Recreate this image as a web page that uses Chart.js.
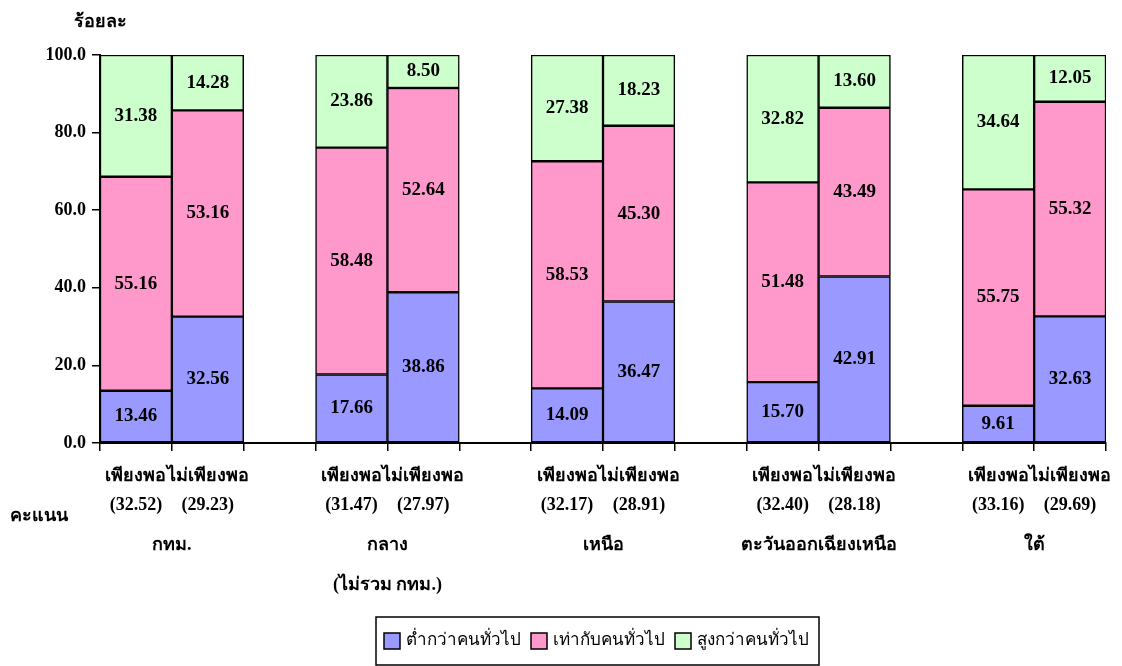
<!DOCTYPE html>
<html>
<head>
<meta charset="utf-8">
<script src="https://cdn.jsdelivr.net/npm/chart.js@4.4.1/dist/chart.umd.min.js"></script>
<style>
html,body{margin:0;background:#fff}
#wrap{width:1122px;height:666px;position:relative}
</style>
</head>
<body>
<div id="wrap"><canvas id="c"></canvas></div>
<script>
// data
var barNames = ["เพียงพอ","ไม่เพียงพอ","เพียงพอ","ไม่เพียงพอ","เพียงพอ","ไม่เพียงพอ","เพียงพอ","ไม่เพียงพอ","เพียงพอ","ไม่เพียงพอ"];
var scores = ["(32.52)","(29.23)","(31.47)","(27.97)","(32.17)","(28.91)","(32.40)","(28.18)","(33.16)","(29.69)"];
var regions = ["กทม.","กลาง","เหนือ","ตะวันออกเฉียงเหนือ","ใต้"];
var regionNotes = ["","(ไม่รวม กทม.)","","",""];
var seriesNames = ["ต่ำกว่าคนทั่วไป","เท่ากับคนทั่วไป","สูงกว่าคนทั่วไป"];
var lowValues = [13.46,32.56,17.66,38.86,14.09,36.47,15.70,42.91,9.61,32.63];
var sameValues = [55.16,53.16,58.48,52.64,58.53,45.30,51.48,43.49,55.75,55.32];
var highValues = [31.38,14.28,23.86,8.50,27.38,18.23,32.82,13.60,34.64,12.05];
var yTicks = [0,20,40,60,80,100];
var colors = ["#9999FF","#FF99CC","#CCFFCC"];

var FONT = "'Liberation Serif','Times New Roman',serif";

// bars sit in pairs, with one empty slot between regions
function slots(arr, empty){
  var out = [];
  for (var g = 0; g < regions.length; g++){
    out.push(arr[2*g], arr[2*g+1]);
    if (g < regions.length - 1) out.push(empty);
  }
  return out;
}
var xLabels = slots(barNames.map(function(n, i){ return [n, scores[i]]; }), "");

function ds(i, vals){
  return {
    label: seriesNames[i],
    data: slots(vals, null),
    backgroundColor: colors[i],
    borderColor: "#000",
    borderWidth: 1.5,
    borderSkipped: false,
    barPercentage: 1,
    categoryPercentage: 1
  };
}

var valueLabels = {
  id: "valueLabels",
  afterDatasetsDraw: function(chart){
    var ctx = chart.ctx;
    ctx.save();
    ctx.font = "bold 19px " + FONT;
    ctx.fillStyle = "#000";
    ctx.textAlign = "center";
    ctx.textBaseline = "middle";
    chart.data.datasets.forEach(function(d, i){
      chart.getDatasetMeta(i).data.forEach(function(bar, j){
        var v = d.data[j];
        if (v == null) return;
        ctx.fillText(v.toFixed(2), bar.x, (bar.y + bar.base) / 2);
      });
    });
    ctx.restore();
  }
};

var extras = {
  id: "extras",
  afterDraw: function(chart){
    var ctx = chart.ctx, x = chart.scales.x;
    ctx.save();
    ctx.fillStyle = "#000";
    ctx.textAlign = "center";
    ctx.textBaseline = "middle";
    ctx.font = "bold 18px " + FONT;
    regions.forEach(function(r, g){
      var cx = (x.getPixelForValue(3*g) + x.getPixelForValue(3*g+1)) / 2;
      ctx.fillText(r, cx, 545);
      if (regionNotes[g]) ctx.fillText(regionNotes[g], cx, 585);
    });
    ctx.fillText("ร้อยละ", 100, 22);
    ctx.textAlign = "left";
    ctx.fillText("คะแนน", 10, 516);

    // legend, laid out from measured text widths and centred under the plot
    ctx.font = "17px " + FONT;
    var widths = chart.data.datasets.map(function(d){ return ctx.measureText(d.label).width; });
    var total = 8;
    widths.forEach(function(w){ total += 16 + 6 + w + 10; });
    var left = Math.round(597 - total / 2);
    ctx.strokeStyle = "#000";
    ctx.lineWidth = 1.5;
    ctx.strokeRect(left, 617, total, 48);
    var lx = left + 8;
    chart.data.datasets.forEach(function(d, i){
      ctx.fillStyle = d.backgroundColor;
      ctx.fillRect(lx, 633, 16, 16);
      ctx.strokeRect(lx, 633, 16, 16);
      ctx.fillStyle = "#000";
      ctx.fillText(d.label, lx + 22, 641);
      lx += 16 + 6 + widths[i] + 10;
    });
    ctx.restore();
  }
};

new Chart(document.getElementById("c"), {
  type: "bar",
  data: {
    labels: xLabels,
    datasets: [ds(0, lowValues), ds(1, sameValues), ds(2, highValues)]
  },
  plugins: [valueLabels, extras],
  options: {
    responsive: true,
    maintainAspectRatio: false,
    animation: false,
    layout: { padding: { top: 55, right: 16, left: 0, bottom: 0 } },
    plugins: { legend: { display: false }, tooltip: { enabled: false } },
    scales: {
      x: {
        stacked: true,
        afterFit: function(s){ s.height = 223; },
        grid: { drawOnChartArea: false, offset: true, tickLength: 8, color: "#000", lineWidth: 1.5 },
        border: { color: "#000", width: 2 },
        ticks: { color: "#000", font: { size: 18, weight: "bold", family: FONT, lineHeight: 1.65 }, padding: 10, maxRotation: 0, autoSkip: false }
      },
      y: {
        stacked: true,
        min: 0, max: 100,
        afterFit: function(s){ s.width = 100; },
        afterBuildTicks: function(s){ s.ticks = yTicks.map(function(v){ return { value: v }; }); },
        grid: { drawOnChartArea: false, tickLength: 8, color: "#000", lineWidth: 1.5 },
        border: { color: "#000", width: 2 },
        ticks: { color: "#000", font: { size: 18, weight: "bold", family: FONT }, padding: 6,
          callback: function(v){ return Number(v).toFixed(1); } }
      }
    }
  }
});
</script>
</body>
</html>
